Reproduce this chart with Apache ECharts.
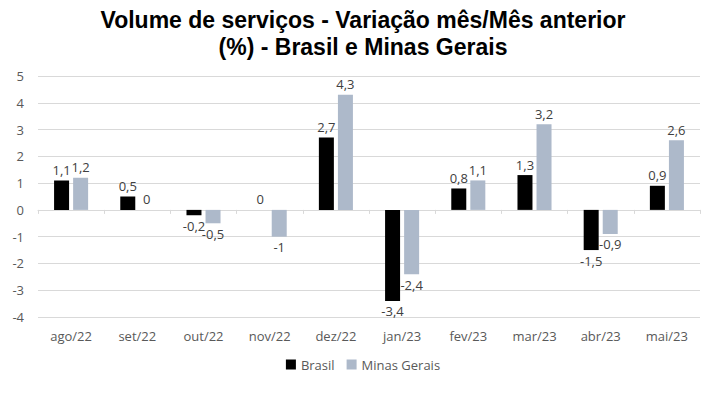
<!DOCTYPE html>
<html>
<head>
<meta charset="utf-8">
<script src="https://cdn.jsdelivr.net/npm/echarts@6/dist/echarts.min.js"></script>
<style>
  html, body { margin: 0; padding: 0; background: #fff; }
  #chart { width: 726px; height: 396px; }
</style>
</head>
<body>
<div id="chart"></div>
<script>
const categories = ['ago/22', 'set/22', 'out/22', 'nov/22', 'dez/22', 'jan/23', 'fev/23', 'mar/23', 'abr/23', 'mai/23']
const brasil = [1.1, 0.5, -0.2, 0, 2.7, -3.4, 0.8, 1.3, -1.5, 0.9]
const minasGerais = [1.2, 0, -0.5, -1, 4.3, -2.4, 1.1, 3.2, -0.9, 2.6]

const fmt = v => String(v).replace('.', ',')

// label above positive bars, below negative ones
const withLabels = values => values.map(v => ({
  value: v,
  label: { position: v < 0 ? 'bottom' : 'top' }
}))

const barLabel = {
  show: true,
  color: '#404040',
  fontSize: 13,
  fontFamily: 'Open Sans',
  distance: 4,
  formatter: p => fmt(p.value)
}

const chart = echarts.init(document.getElementById('chart'), null, { renderer: 'svg' })
chart.setOption({
  animation: false,
  title: {
    text: 'Volume de serviços - Variação mês/Mês anterior\n(%) - Brasil e Minas Gerais',
    left: 'center',
    top: 1,
    textStyle: { fontFamily: 'Liberation Sans', fontWeight: 'bold', fontSize: 23, lineHeight: 27, color: '#000' }
  },
  legend: {
    bottom: 20,
    left: 'center',
    itemWidth: 10,
    itemHeight: 10,
    itemGap: 12,
    icon: 'rect',
    textStyle: { color: '#595959', fontSize: 13, fontFamily: 'Open Sans' },
    data: ['Brasil', 'Minas Gerais']
  },
  grid: { left: 38, right: 26, top: 76, bottom: 79 },
  xAxis: [
    {
      type: 'category',
      data: categories,
      position: 'bottom',
      axisLine: { show: false, onZero: false },
      axisTick: { show: false },
      axisLabel: { color: '#595959', fontSize: 13, fontFamily: 'Open Sans', margin: 12 }
    },
    {
      type: 'category',
      data: categories,
      position: 'top',
      axisLine: { show: true, onZero: true, lineStyle: { color: '#d9d9d9' } },
      axisTick: { show: true, inside: true, length: 4, lineStyle: { color: '#d9d9d9' } },
      axisLabel: { show: false }
    }
  ],
  yAxis: {
    type: 'value',
    min: -4,
    max: 5,
    interval: 1,
    axisLine: { show: false },
    axisTick: { show: false },
    axisLabel: { color: '#595959', fontSize: 13, fontFamily: 'Open Sans', margin: 14 },
    splitLine: { lineStyle: { color: '#d9d9d9' } }
  },
  series: [
    {
      name: 'Brasil',
      type: 'bar',
      xAxisIndex: 0,
      barWidth: 15,
      barGap: '27%',
      itemStyle: { color: '#000000' },
      label: barLabel,
      data: withLabels(brasil)
    },
    {
      name: 'Minas Gerais',
      type: 'bar',
      xAxisIndex: 0,
      barWidth: 15,
      barGap: '27%',
      itemStyle: { color: '#adb9ca' },
      label: barLabel,
      data: withLabels(minasGerais)
    }
  ]
})
</script>
</body>
</html>
